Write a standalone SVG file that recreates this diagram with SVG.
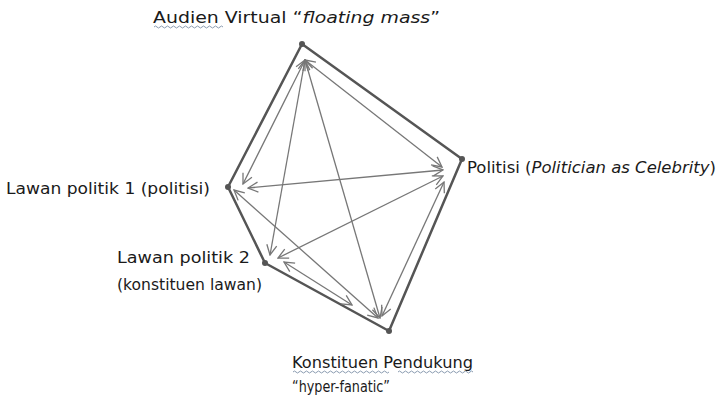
<svg xmlns="http://www.w3.org/2000/svg" width="722" height="403" viewBox="0 0 722 403">
<style>
text{font-family:"DejaVu Sans","Liberation Sans",sans-serif;fill:#1a1a1a;font-size:15.5px}
.outline{fill:none;stroke:#555;stroke-width:2.5;stroke-linejoin:round}
.arr{stroke:#777;stroke-width:1.3;fill:none;marker-start:url(#ah);marker-end:url(#ah)}
.dot{fill:#555}
.sq{fill:none;stroke:#8a9bb0;stroke-width:1}
</style>
<defs>
<marker id="ah" viewBox="0 0 12 12" refX="11" refY="6" markerWidth="12" markerHeight="12" markerUnits="userSpaceOnUse" orient="auto-start-reverse">
<path d="M1,1 L11,6 L1,11" fill="none" stroke="#777" stroke-width="1.3"/>
</marker>
</defs>
<rect width="722" height="403" fill="#fff"/>
<g id="outline">
<polygon class="outline" points="302,44 462,159 389,331 265,263 228,187"/>
</g>
<g id="connectors">
<line class="arr" x1="305" y1="60" x2="243" y2="184"/>
<line class="arr" x1="305" y1="60" x2="270" y2="255"/>
<line class="arr" x1="305" y1="60" x2="380" y2="318"/>
<line class="arr" x1="305" y1="60" x2="442" y2="167"/>
<line class="arr" x1="443" y1="170" x2="248" y2="188"/>
<line class="arr" x1="443" y1="176" x2="278" y2="258"/>
<line class="arr" x1="444" y1="182" x2="382" y2="316"/>
<line class="arr" x1="234" y1="190" x2="378" y2="318"/>
<line class="arr" x1="284" y1="262" x2="352" y2="305"/>
</g>
<g id="node-audien">
<circle class="dot" cx="302" cy="44" r="3"/>
<text x="153" y="23" font-size="17" textLength="287" lengthAdjust="spacingAndGlyphs">Audien Virtual “<tspan font-style="italic">floating mass</tspan>”</text>
<path class="sq" d="M154,27 q1.5,-2 3,0 t3,0 t3,0 t3,0 t3,0 t3,0 t3,0 t3,0 t3,0 t3,0 t3,0 t3,0 t3,0 t3,0 t3,0 t3,0 t3,0 t3,0 t3,0 t3,0 t3,0 t3,0 t3,0"/>
</g>
<g id="node-politisi">
<circle class="dot" cx="462" cy="159" r="3"/>
<text x="467" y="173" textLength="249" lengthAdjust="spacingAndGlyphs">Politisi (<tspan font-style="italic">Politician as Celebrity</tspan>)</text>
</g>
<g id="node-lawan1">
<circle class="dot" cx="228" cy="187" r="3"/>
<text x="6" y="194" textLength="204" lengthAdjust="spacingAndGlyphs">Lawan politik 1 (politisi)</text>
</g>
<g id="node-lawan2">
<circle class="dot" cx="265" cy="263" r="3"/>
<text x="117" y="263" textLength="133" lengthAdjust="spacingAndGlyphs">Lawan politik 2</text>
<text x="117" y="290" textLength="145" lengthAdjust="spacingAndGlyphs">(konstituen lawan)</text>
</g>
<g id="node-konstituen">
<circle class="dot" cx="389" cy="331" r="3"/>
<text x="292" y="368" textLength="181" lengthAdjust="spacingAndGlyphs">Konstituen Pendukung</text>
<path class="sq" d="M293,372 q1.5,-2 3,0 t3,0 t3,0 t3,0 t3,0 t3,0 t3,0 t3,0 t3,0 t3,0 t3,0 t3,0 t3,0 t3,0 t3,0 t3,0 t3,0 t3,0 t3,0 t3,0 t3,0 t3,0 t3,0 t3,0 t3,0 t3,0 t3,0 t3,0 t3,0 t3,0 t3,0 t3,0"/>
<path class="sq" d="M398,372 q1.5,-2 3,0 t3,0 t3,0 t3,0 t3,0 t3,0 t3,0 t3,0 t3,0 t3,0 t3,0 t3,0 t3,0 t3,0 t3,0 t3,0 t3,0 t3,0 t3,0 t3,0 t3,0 t3,0 t3,0 t3,0 t3,0"/>
<text x="292" y="392" textLength="98" lengthAdjust="spacingAndGlyphs">“hyper-fanatic”</text>
</g>
</svg>
